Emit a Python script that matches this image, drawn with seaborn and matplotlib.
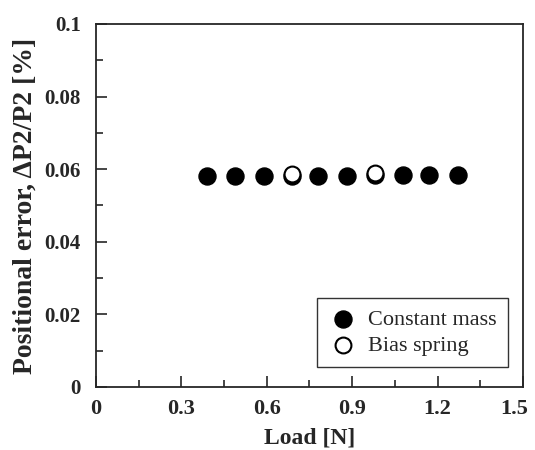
import numpy as np
import pandas as pd
import matplotlib
matplotlib.use("Agg")
import matplotlib.pyplot as plt
from matplotlib.ticker import MultipleLocator
from matplotlib.transforms import ScaledTranslation
import seaborn as sns

# data
load_const = [0.39, 0.49, 0.59, 0.69, 0.78, 0.88, 0.98, 1.08, 1.17, 1.27]
err_const = [0.0580, 0.0580, 0.0580, 0.0581, 0.0582, 0.0582, 0.0583, 0.0584, 0.0584, 0.0584]
load_bias = [0.69, 0.98]
err_bias = [0.0588, 0.0589]

sns.set_style("ticks")
plt.rcParams["font.family"] = ["Liberation Serif", "DejaVu Serif"]

fig = plt.figure(figsize=(5.35, 4.5), dpi=100)
ax = fig.add_axes([0.1794, 0.14, 0.7982, 0.8067])

df_c = pd.DataFrame({"load": load_const, "err": err_const})
df_b = pd.DataFrame({"load": load_bias, "err": err_bias})

sns.scatterplot(data=df_c, x="load", y="err", ax=ax, s=150, color="black",
                edgecolor="black", linewidth=1, label="Constant mass", zorder=3)
sns.scatterplot(data=df_b, x="load", y="err", ax=ax, s=130, color="white",
                edgecolor="black", linewidth=1.5, label="Bias spring", zorder=4)

ax.set_xlim(0, 1.5)
ax.set_ylim(0, 0.1)
ax.xaxis.set_minor_locator(MultipleLocator(0.15))
ax.yaxis.set_minor_locator(MultipleLocator(0.01))
ax.set_xticks([0, 0.3, 0.6, 0.9, 1.2, 1.5])
ax.set_xticklabels(["0", "0.3", "0.6", "0.9", "1.2", "1.5"])
ax.set_yticks([0, 0.02, 0.04, 0.06, 0.08, 0.1])
ax.set_yticklabels(["0", "0.02", "0.04", "0.06", "0.08", "0.1"])
ax.tick_params(which="major", direction="in", length=8, width=1.2)
ax.tick_params(which="minor", direction="in", length=5, width=1.2)
ax.tick_params(axis="x", labelsize=16, pad=9)
ax.tick_params(axis="y", labelsize=15, pad=11)
for lab in ax.get_xticklabels() + ax.get_yticklabels():
    lab.set_fontweight("bold")
# keep the last x label inside the figure
last = ax.get_xticklabels()[-1]
last.set_transform(last.get_transform() + ScaledTranslation(-9 / 100, 0, fig.dpi_scale_trans))
for sp in ax.spines.values():
    sp.set_linewidth(1.3)
    sp.set_visible(True)

ax.set_xlabel("Load [N]", fontsize=17, fontweight="bold", labelpad=6)
ax.set_ylabel("Positional error, \u0394P2/P2 [%]", fontsize=20,
              fontweight="bold", labelpad=5)

leg = ax.legend(loc="lower right", bbox_to_anchor=(0.965, 0.055),
                fontsize=16, frameon=True, fancybox=False, edgecolor="black",
                markerscale=1.0, handletextpad=0.5, borderpad=0.5,
                labelspacing=0.25, handlelength=1.3, borderaxespad=0)
leg.get_frame().set_linewidth(1.0)

fig.savefig("out.png", dpi=100)
